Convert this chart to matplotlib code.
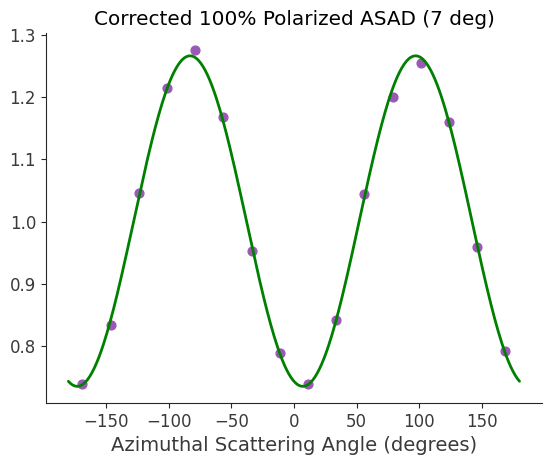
import numpy as np
import matplotlib
matplotlib.use('Agg')
import matplotlib.pyplot as plt
import seaborn as sns

sns.set_style('ticks')

# measured ASAD points
angles = np.array([-168.75, -146.25, -123.75, -101.25, -78.75, -56.25, -33.75, -11.25,
                   11.25, 33.75, 56.25, 78.75, 101.25, 123.75, 146.25, 168.75])
counts = np.array([0.740, 0.834, 1.046, 1.215, 1.276, 1.168, 0.953, 0.789,
                   0.740, 0.842, 1.045, 1.200, 1.255, 1.160, 0.959, 0.793])

# modulation curve fit: A + B cos(2x) + C sin(2x)
rad = np.radians(angles)
M = np.column_stack([np.ones_like(rad), np.cos(2 * rad), np.sin(2 * rad)])
coef, *_ = np.linalg.lstsq(M, counts, rcond=None)
xfit = np.linspace(-180, 180, 400)
rf = np.radians(xfit)
yfit = coef[0] + coef[1] * np.cos(2 * rf) + coef[2] * np.sin(2 * rf)

fig = plt.figure(figsize=(5.52, 4.65), dpi=100)
ax = fig.add_axes([0.083, 0.133, 0.899, 0.796])
ax.scatter(angles, counts, color='#9b59b6', s=40, zorder=2)
ax.plot(xfit, yfit, color='green', lw=2, zorder=3)
ax.set_title("Corrected 100% Polarized ASAD (7 deg)", fontsize=14.4, color='black')
ax.set_xlabel("Azimuthal Scattering Angle (degrees)", fontsize=14, color='#3a3a3a')
ax.tick_params(labelsize=12, labelcolor='#3a3a3a')
sns.despine(ax=ax)

fig.savefig('out.png', dpi=100)
